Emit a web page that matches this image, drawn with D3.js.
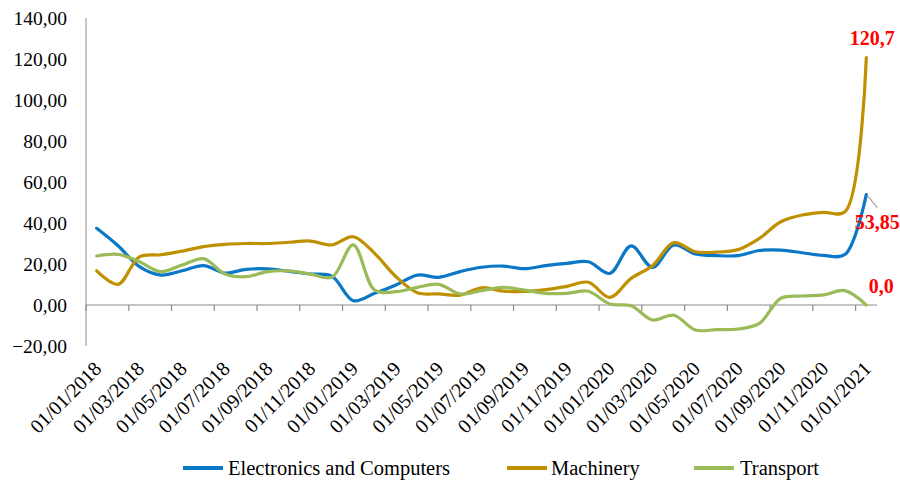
<!DOCTYPE html>
<html>
<head>
<meta charset="utf-8">
<script src="https://cdn.jsdelivr.net/npm/d3@7/dist/d3.min.js"></script>
<style>
  html, body { margin: 0; padding: 0; background: #fff; }
</style>
</head>
<body>
<svg id="chart" width="900" height="481"></svg>
<script>
// Monthly index values, Jan 2018 – Jan 2021
const months = [
  "01/01/2018","01/02/2018","01/03/2018","01/04/2018","01/05/2018","01/06/2018",
  "01/07/2018","01/08/2018","01/09/2018","01/10/2018","01/11/2018","01/12/2018",
  "01/01/2019","01/02/2019","01/03/2019","01/04/2019","01/05/2019","01/06/2019",
  "01/07/2019","01/08/2019","01/09/2019","01/10/2019","01/11/2019","01/12/2019",
  "01/01/2020","01/02/2020","01/03/2020","01/04/2020","01/05/2020","01/06/2020",
  "01/07/2020","01/08/2020","01/09/2020","01/10/2020","01/11/2020","01/12/2020",
  "01/01/2021"
];

const electronics = [
  37.4, 28.9, 18.7, 14.6, 16.7, 19.2, 15.6, 17.4, 17.6, 16.4, 15.1, 14.1,
  2.1, 5.7, 9.8, 14.6, 13.5, 16.3, 18.4, 19.0, 17.7, 19.2, 20.3, 21.1,
  15.4, 28.8, 18.4, 29.3, 24.9, 24.1, 24.1, 26.6, 26.8, 25.5, 24.2, 24.6,
  53.85
];

const machinery = [
  16.7, 10.1, 23.5, 24.5, 26.3, 28.5, 29.6, 30.0, 30.0, 30.6, 31.2, 29.3,
  33.3, 25.2, 13.8, 6.0, 5.4, 4.8, 8.4, 6.8, 6.6, 7.5, 9.1, 11.1,
  3.7, 13.0, 19.2, 30.4, 26.0, 25.8, 27.0, 32.5, 40.6, 43.9, 45.2, 45.5,
  120.7
];

const transport = [
  23.9, 24.7, 21.1, 16.3, 19.5, 22.6, 15.1, 13.8, 16.3, 16.6, 15.1, 13.5,
  29.3, 7.3, 6.5, 8.6, 10.1, 5.4, 7.0, 8.6, 7.3, 5.7, 5.7, 6.7,
  0.5, -0.4, -7.3, -5.0, -12.2, -12.0, -11.7, -9.0, 3.3, 4.4, 4.9, 7.0,
  0.0
];

const yTicks = [-20, 0, 20, 40, 60, 80, 100, 120, 140];

const seriesNames = ["Electronics and Computers", "Machinery", "Transport"];
const seriesColors = ["#0A78C6", "#BF9000", "#9BBB59"];
const seriesData = [electronics, machinery, transport];

// End-of-series value labels
const endLabels = [
  { series: 1, text: "120,7" },
  { series: 0, text: "53,85" },
  { series: 2, text: "0,0" }
];

const FONT = "Liberation Serif";

const svg = d3.select("#chart");
const plotLeft = 86, plotRight = 877, plotTop = 18, plotBottom = 346;

const y = d3.scaleLinear().domain([-20, 140]).range([plotBottom, plotTop]);
const x = d3.scaleBand().domain(d3.range(months.length)).range([plotLeft, plotRight]).paddingInner(0).paddingOuter(0);
const cx = i => x(i) + x.bandwidth() / 2;

const fmt = v => d3.format(".2f")(v).replace(".", ",");

// Value axis
svg.append("line")
  .attr("x1", plotLeft).attr("x2", plotLeft).attr("y1", plotTop).attr("y2", plotBottom)
  .attr("stroke", "#8c8c8c").attr("stroke-width", 1);

svg.append("g").selectAll("text").data(yTicks).join("text")
  .attr("x", 67).attr("y", d => y(d))
  .attr("dy", "0.35em")
  .attr("text-anchor", "end")
  .style("font-family", FONT)
  .style("font-size", "19.5px")
  .attr("fill", "#000")
  .text(fmt);

// Category axis crossing at zero
const y0 = y(0);
svg.append("line")
  .attr("x1", plotLeft).attr("x2", plotRight).attr("y1", y0).attr("y2", y0)
  .attr("stroke", "#8c8c8c").attr("stroke-width", 1.2);

const tickIdx = d3.range(0, months.length, 2);
svg.append("g").selectAll("line").data(tickIdx).join("line")
  .attr("x1", i => x(i)).attr("x2", i => x(i))
  .attr("y1", y0).attr("y2", y0 + 6)
  .attr("stroke", "#8c8c8c").attr("stroke-width", 1.2);

svg.append("g").selectAll("text").data(tickIdx).join("text")
  .attr("transform", i => `translate(${cx(i) + 6},${plotBottom + 24}) rotate(-45)`)
  .attr("text-anchor", "end")
  .style("font-family", FONT)
  .style("font-size", "20px")
  .attr("fill", "#000")
  .text(i => months[i]);

// Smoothed series lines
const line = d3.line()
  .x((d, i) => cx(i))
  .y(d => y(d))
  .curve(d3.curveCatmullRom.alpha(0.5));

svg.append("g").selectAll("path").data(seriesData).join("path")
  .attr("d", d => line(d))
  .attr("fill", "none")
  .attr("stroke", (d, i) => seriesColors[i])
  .attr("stroke-width", 3.2)
  .attr("stroke-linejoin", "round")
  .attr("stroke-linecap", "round");

// Value labels at the last month
const last = months.length - 1;
const labelPos = {
  "120,7": { dx: 6, dy: -13 },
  "53,85": { dx: 11, dy: 34 },
  "0,0":   { dx: 15, dy: -12 }
};
endLabels.forEach(l => {
  const v = seriesData[l.series][last];
  const p = labelPos[l.text];
  svg.append("text")
    .attr("x", cx(last) + p.dx).attr("y", y(v) + p.dy)
    .attr("text-anchor", "middle")
    .style("font-family", FONT)
    .style("font-size", "20px")
    .style("font-weight", "bold")
    .attr("fill", "#FF0000")
    .text(l.text);
});

// Leader line for the Electronics label
const ve = electronics[last];
svg.append("line")
  .attr("x1", cx(last) + 1).attr("y1", y(ve) + 1)
  .attr("x2", cx(last) + 11).attr("y2", y(ve) + 13)
  .attr("stroke", "#a6a6a6").attr("stroke-width", 1.2);

// Legend
const legendItems = [
  { x: 183, tx: 228 },
  { x: 507, tx: 551 },
  { x: 694, tx: 740 }
];
const lg = svg.append("g");
legendItems.forEach((it, i) => {
  lg.append("line")
    .attr("x1", it.x).attr("x2", it.x + 40)
    .attr("y1", 468).attr("y2", 468)
    .attr("stroke", seriesColors[i]).attr("stroke-width", 4);
  lg.append("text")
    .attr("x", it.tx).attr("y", 468).attr("dy", "0.35em")
    .style("font-family", FONT)
    .style("font-size", "20.5px")
    .attr("fill", "#000")
    .text(seriesNames[i]);
});
</script>
</body>
</html>
